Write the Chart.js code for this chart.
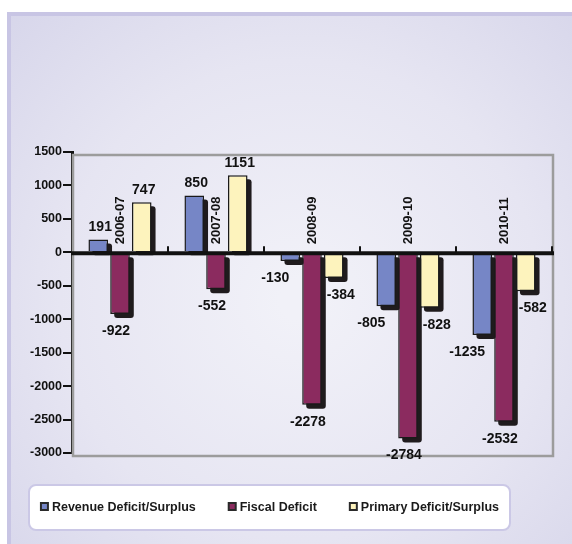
<!DOCTYPE html>
<html>
<head>
<meta charset="utf-8">
<script src="https://cdn.jsdelivr.net/npm/chart.js@4/dist/chart.umd.min.js"></script>
<style>
  html, body { margin: 0; padding: 0; background: #ffffff; }
  canvas { display: block; }
</style>
</head>
<body>
<canvas id="deficitChart" width="572" height="544"></canvas>
<script>
// Financial years on the category axis
const years = ['2006-07', '2007-08', '2008-09', '2009-10', '2010-11'];

// Series values
const revenueDeficit = [191, 850, -130, -805, -1235];
const fiscalDeficit = [-922, -552, -2278, -2784, -2532];
const primaryDeficit = [747, 1151, -384, -828, -582];

// Value axis range and step
const yMax = 1500;
const yMin = -3000;
const yStep = 500;

const seriesNames = ['Revenue Deficit/Surplus', 'Fiscal Deficit', 'Primary Deficit/Surplus'];
const seriesColors = ['#7686c6', '#8b2b5f', '#fdf3bd'];

const FONT = '"Liberation Sans", Arial, Helvetica, sans-serif';

// Lavender panel with a soft radial glow behind the chart
const panelBackground = {
  id: 'panelBackground',
  beforeDraw(chart) {
    const { ctx, width, height } = chart;
    ctx.save();
    ctx.fillStyle = '#ffffff';
    ctx.fillRect(0, 0, width, height);
    ctx.fillStyle = '#c8c5e4';
    ctx.fillRect(7, 12, width - 7, height - 12);
    const g = ctx.createRadialGradient(300, 300, 20, 300, 300, 420);
    g.addColorStop(0, '#f1f1f8');
    g.addColorStop(0.55, '#e6e5f2');
    g.addColorStop(1, '#d6d5ea');
    ctx.fillStyle = g;
    ctx.fillRect(11, 16, width - 11, height - 16);
    ctx.restore();
  }
};

// Grey wall frame, 3D bar shadows, zero line and labels
const barDecor = {
  id: 'barDecor',
  beforeDatasetsDraw(chart) {
    const { ctx, chartArea: a } = chart;
    ctx.save();
    ctx.strokeStyle = '#9c9c9c';
    ctx.lineWidth = 2.5;
    ctx.strokeRect(a.left + 1, a.top + 3, a.right - a.left, a.bottom - a.top);

    ctx.fillStyle = '#1f1b1d';
    chart.data.datasets.forEach((ds, i) => {
      chart.getDatasetMeta(i).data.forEach(bar => {
        const { x, y, base, width } = bar.getProps(['x', 'y', 'base', 'width'], true);
        const left = x - width / 2 + 4;
        const top = Math.min(y, base) + 4;
        const h = Math.abs(base - y);
        ctx.beginPath();
        ctx.roundRect(left, top, width, h, 3);
        ctx.fill();
      });
    });
    ctx.restore();
  },
  afterDatasetsDraw(chart) {
    const { ctx, chartArea: a, scales } = chart;
    const xs = scales.x, ys = scales.y;
    const zeroY = ys.getPixelForValue(0);
    ctx.save();

    // zero line
    ctx.strokeStyle = '#111';
    ctx.lineWidth = 4;
    ctx.beginPath();
    ctx.moveTo(a.left - 1, zeroY + 1);
    ctx.lineTo(a.right + 2, zeroY + 1);
    ctx.stroke();

    // category separators on the zero line
    ctx.lineWidth = 2;
    const step = xs.getPixelForValue(1) - xs.getPixelForValue(0);
    years.forEach((_, i) => {
      const bx = xs.getPixelForValue(i) + step / 2;
      ctx.beginPath();
      ctx.moveTo(bx, zeroY - 6);
      ctx.lineTo(bx, zeroY);
      ctx.stroke();
    });

    // rotated year labels above the zero line
    ctx.fillStyle = '#111';
    ctx.font = 'bold 13px ' + FONT;
    ctx.textAlign = 'left';
    ctx.textBaseline = 'middle';
    years.forEach((yr, i) => {
      ctx.save();
      ctx.translate(xs.getPixelForValue(i), zeroY - 8);
      ctx.rotate(-Math.PI / 2);
      ctx.fillText(yr, 0, 0);
      ctx.restore();
    });

    // value labels
    ctx.font = 'bold 14px ' + FONT;
    ctx.textAlign = 'center';
    chart.data.datasets.forEach((ds, i) => {
      chart.getDatasetMeta(i).data.forEach((bar, j) => {
        const v = ds.data[j];
        const { x, y } = bar.getProps(['x', 'y'], true);
        if (v >= 0) {
          ctx.textBaseline = 'bottom';
          ctx.fillText(String(v), x + 2, y - 5);
        } else {
          ctx.textBaseline = 'middle';
          const dx = (i - 1) * 11 - 4;
          ctx.fillText(String(v), x + dx, y + 17);
        }
      });
    });
    ctx.restore();
  }
};

// Legend in a white rounded box under the plot
const boxedLegend = {
  id: 'boxedLegend',
  afterDraw(chart) {
    const { ctx } = chart;
    ctx.save();
    const bx = 29, by = 485, bw = 481, bh = 45;
    ctx.beginPath();
    ctx.roundRect(bx, by, bw, bh, 7);
    ctx.fillStyle = '#ffffff';
    ctx.fill();
    ctx.lineWidth = 2;
    ctx.strokeStyle = '#cbc8e6';
    ctx.stroke();

    ctx.font = 'bold 12.5px ' + FONT;
    ctx.textBaseline = 'middle';
    ctx.textAlign = 'left';
    const sq = 9, gapText = 3, gapItem = 32;
    const items = chart.data.datasets.map(ds => ({
      label: ds.label, color: ds.backgroundColor,
      w: sq + gapText + ctx.measureText(ds.label).width
    }));
    const total = items.reduce((s, it) => s + it.w, 0) + gapItem * (items.length - 1);
    let x = bx + (bw - total) / 2;
    const cy = by + bh / 2;
    items.forEach(it => {
      ctx.fillStyle = '#2a2a2a';
      ctx.fillRect(x, cy - sq / 2 - 1, sq, sq);
      ctx.fillStyle = it.color;
      ctx.fillRect(x + 2, cy - sq / 2 + 1, sq - 4, sq - 4);
      ctx.fillStyle = '#1a1a1a';
      ctx.fillText(it.label, x + sq + gapText, cy);
      x += it.w + gapItem;
    });
    ctx.restore();
  }
};

const seriesValues = [revenueDeficit, fiscalDeficit, primaryDeficit];

new Chart(document.getElementById('deficitChart'), {
  type: 'bar',
  data: {
    labels: years,
    datasets: seriesValues.map((vals, i) => ({
      label: seriesNames[i],
      data: vals,
      backgroundColor: seriesColors[i],
      borderColor: '#1a1a1a',
      borderWidth: 1.5,
      categoryPercentage: 0.68,
      barPercentage: 0.9
    }))
  },
  options: {
    responsive: false,
    animation: false,
    events: [],
    layout: { padding: { top: 152, bottom: 91, left: 0, right: 20 } },
    plugins: {
      legend: { display: false },
      tooltip: { enabled: false },
      title: { display: false }
    },
    scales: {
      x: { display: false, offset: true },
      y: {
        min: yMin,
        max: yMax,
        afterFit(scale) { scale.width = 72; },
        ticks: {
          stepSize: yStep,
          color: '#111',
          padding: 1,
          font: { family: FONT, size: 12.5, weight: 'bold' },
          callback: v => String(v)
        },
        grid: {
          drawOnChartArea: false,
          drawTicks: true,
          tickLength: 9,
          color: '#111',
          lineWidth: 2
        },
        border: { display: true, color: '#111', width: 3 }
      }
    }
  },
  plugins: [panelBackground, barDecor, boxedLegend]
});
</script>
</body>
</html>
